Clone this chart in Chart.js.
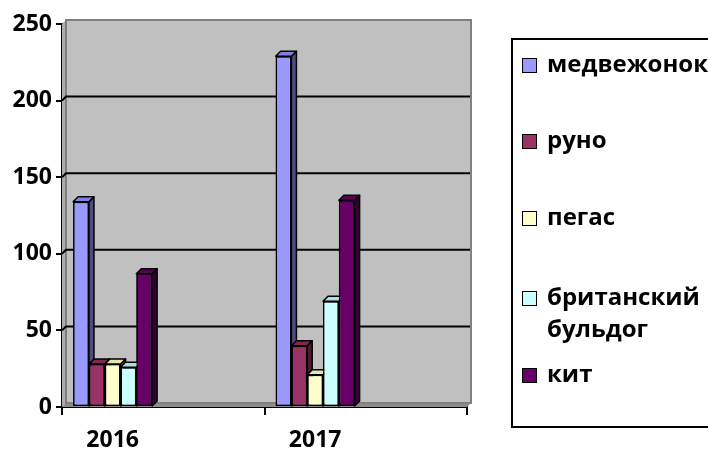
<!DOCTYPE html>
<html>
<head>
<meta charset="utf-8">
<script src="https://cdn.jsdelivr.net/npm/chart.js@4.4.0/dist/chart.umd.min.js"></script>
<style>
    html, body { margin: 0; padding: 0; background: #fff; }
    #wrap { position: relative; width: 708px; height: 452px; }
    #legendBox {
        position: absolute; left: 511px; top: 38px; width: 220px; height: 390px;
        border: 2px solid #000; box-sizing: border-box;
        font-family: "Open Sans", sans-serif; font-weight: bold; font-size: 24px; color: #000;
    }
    .item { position: absolute; left: 9px; line-height: 32px; white-space: nowrap; }
    .item span.box {
        position: absolute; left: 0; top: 11px; width: 13px; height: 13px;
        border: 1px solid #000;
    }
    .item span.txt { display: block; padding-left: 25px; width: 150px; white-space: normal; }
</style>
</head>
<body>
<div id="wrap">
    <canvas id="toysChart" width="708" height="452"></canvas>
    <div id="legendBox"></div>
</div>
<script>
const years = ['2016', '2017'];
const seriesNames = ['медвежонок', 'руно', 'пегас', 'британский бульдог', 'кит'];
const medvezhonok = [134, 229];
const runo = [28, 40];
const pegas = [28, 21];
const buldog = [26, 69];
const kit = [87, 135];
const yTicks = [0, 50, 100, 150, 200, 250];

const frontColors = ['#9999FF', '#993366', '#FFFFCC', '#CCFFFF', '#660066'];
const sideColors = ['#4D4D80', '#4D1A33', '#80806A', '#6A8080', '#330033'];
const topColors = ['#8080E0', '#80294F', '#E6E6B0', '#A8E0E0', '#550055'];

const barDepth = 5;
const wallDepth = 4;

// every year gets an empty slot after it, like the original sheet
const labels = years.flatMap(y => [y, '']);
const spread = arr => arr.flatMap(v => [v, null]);
const allValues = [medvezhonok, runo, pegas, buldog, kit];

const walls = {
    id: 'walls',
    beforeDatasetsDraw(chart) {
        const ctx = chart.ctx;
        const { left, right, top, bottom } = chart.chartArea;
        const d = wallDepth;
        ctx.save();
        // left wall
        ctx.fillStyle = '#ADADAD';
        ctx.beginPath();
        ctx.moveTo(left, top); ctx.lineTo(left + d, top - d);
        ctx.lineTo(left + d, bottom - d); ctx.lineTo(left, bottom);
        ctx.closePath(); ctx.fill();
        // floor
        ctx.fillStyle = '#8C8C8C';
        ctx.beginPath();
        ctx.moveTo(left, bottom); ctx.lineTo(left + d, bottom - d);
        ctx.lineTo(right + d, bottom - d); ctx.lineTo(right, bottom);
        ctx.closePath(); ctx.fill();
        // back wall
        ctx.fillStyle = '#C0C0C0';
        ctx.fillRect(left + d, top - d, right - left, bottom - top);
        ctx.strokeStyle = '#808080';
        ctx.lineWidth = 2;
        ctx.strokeRect(left + d, top - d, right - left, bottom - top);
        // grid lines on the back wall
        const yScale = chart.scales.y;
        ctx.strokeStyle = '#000';
        ctx.lineWidth = 2;
        yScale.ticks.forEach(t => {
            if (t.value === 0 || t.value === 250) return;
            const py = yScale.getPixelForValue(t.value);
            ctx.beginPath();
            ctx.moveTo(left, py);
            ctx.lineTo(left + d, py - d);
            ctx.lineTo(right + d - 1, py - d);
            ctx.stroke();
        });
        ctx.restore();
    }
};

// chart.js paints the last dataset first, so repaint left to right with depth
const bar3d = {
    id: 'bar3d',
    afterDatasetsDraw(chart) {
        const ctx = chart.ctx;
        const d = barDepth;
        chart.data.datasets.forEach((ds, i) => {
            const meta = chart.getDatasetMeta(i);
            meta.data.forEach((bar, j) => {
                if (ds.data[j] == null) return;
                bar.draw(ctx, chart.chartArea);
                const p = bar.getProps(['x', 'y', 'base', 'width'], true);
                const l = p.x - p.width / 2, r = p.x + p.width / 2;
                ctx.save();
                ctx.lineWidth = 1.5;
                ctx.strokeStyle = '#000';
                ctx.lineJoin = 'round';
                ctx.fillStyle = sideColors[i];
                ctx.beginPath();
                ctx.moveTo(r, p.base); ctx.lineTo(r, p.y);
                ctx.lineTo(r + d, p.y - d); ctx.lineTo(r + d, p.base - d);
                ctx.closePath(); ctx.fill(); ctx.stroke();
                ctx.fillStyle = topColors[i];
                ctx.beginPath();
                ctx.moveTo(l, p.y); ctx.lineTo(l + d, p.y - d);
                ctx.lineTo(r + d, p.y - d); ctx.lineTo(r, p.y);
                ctx.closePath(); ctx.fill(); ctx.stroke();
                ctx.restore();
            });
        });
    }
};

function buildLegend() {
    const box = document.getElementById('legendBox');
    const tops = [7, 83, 160, 240, 317];
    seriesNames.forEach((name, i) => {
        const item = document.createElement('div');
        item.className = 'item';
        item.style.top = tops[i] + 'px';
        item.innerHTML = `<span class="box" style="background:${frontColors[i]}"></span><span class="txt">${name}</span>`;
        box.appendChild(item);
    });
}

document.addEventListener("DOMContentLoaded", () => {
    const ctx = document.getElementById('toysChart').getContext('2d');
    const tickFont = { family: 'Open Sans', weight: 'bold', size: 23 };

    new Chart(ctx, {
        type: 'bar',
        data: {
            labels: labels,
            datasets: seriesNames.map((name, i) => ({
                label: name,
                data: spread(allValues[i]),
                backgroundColor: frontColors[i],
                borderColor: '#000',
                borderWidth: 1.5,
                borderSkipped: false,
                categoryPercentage: 0.78,
                barPercentage: 1.0
            }))
        },
        options: {
            responsive: false,
            animation: false,
            layout: { padding: { top: 24, right: 241, left: 0, bottom: 0 } },
            plugins: {
                legend: { display: false },
                tooltip: { enabled: false }
            },
            scales: {
                x: {
                    offset: true,
                    grid: {
                        offset: true,
                        drawOnChartArea: false,
                        drawTicks: true,
                        tickLength: 8,
                        lineWidth: 2,
                        color: c => (c.index === undefined || c.index % 2 === 0) ? '#000' : 'rgba(0,0,0,0)'
                    },
                    border: { display: true, color: '#000', width: 2 },
                    ticks: { font: tickFont, color: '#000', padding: 12, maxRotation: 0, autoSkip: false },
                    afterFit: s => { s.height = 45; }
                },
                y: {
                    min: 0,
                    max: 250,
                    afterBuildTicks: s => { s.ticks = yTicks.map(v => ({ value: v })); },
                    grid: {
                        drawOnChartArea: false,
                        drawTicks: true,
                        tickLength: 6,
                        lineWidth: 2,
                        color: '#000'
                    },
                    border: { display: true, color: '#000', width: 2 },
                    ticks: { font: tickFont, color: '#000', padding: 4 },
                    afterFit: s => { s.width = 62; }
                }
            }
        },
        plugins: [walls, bar3d]
    });
    buildLegend();
});
</script>
</body>
</html>
